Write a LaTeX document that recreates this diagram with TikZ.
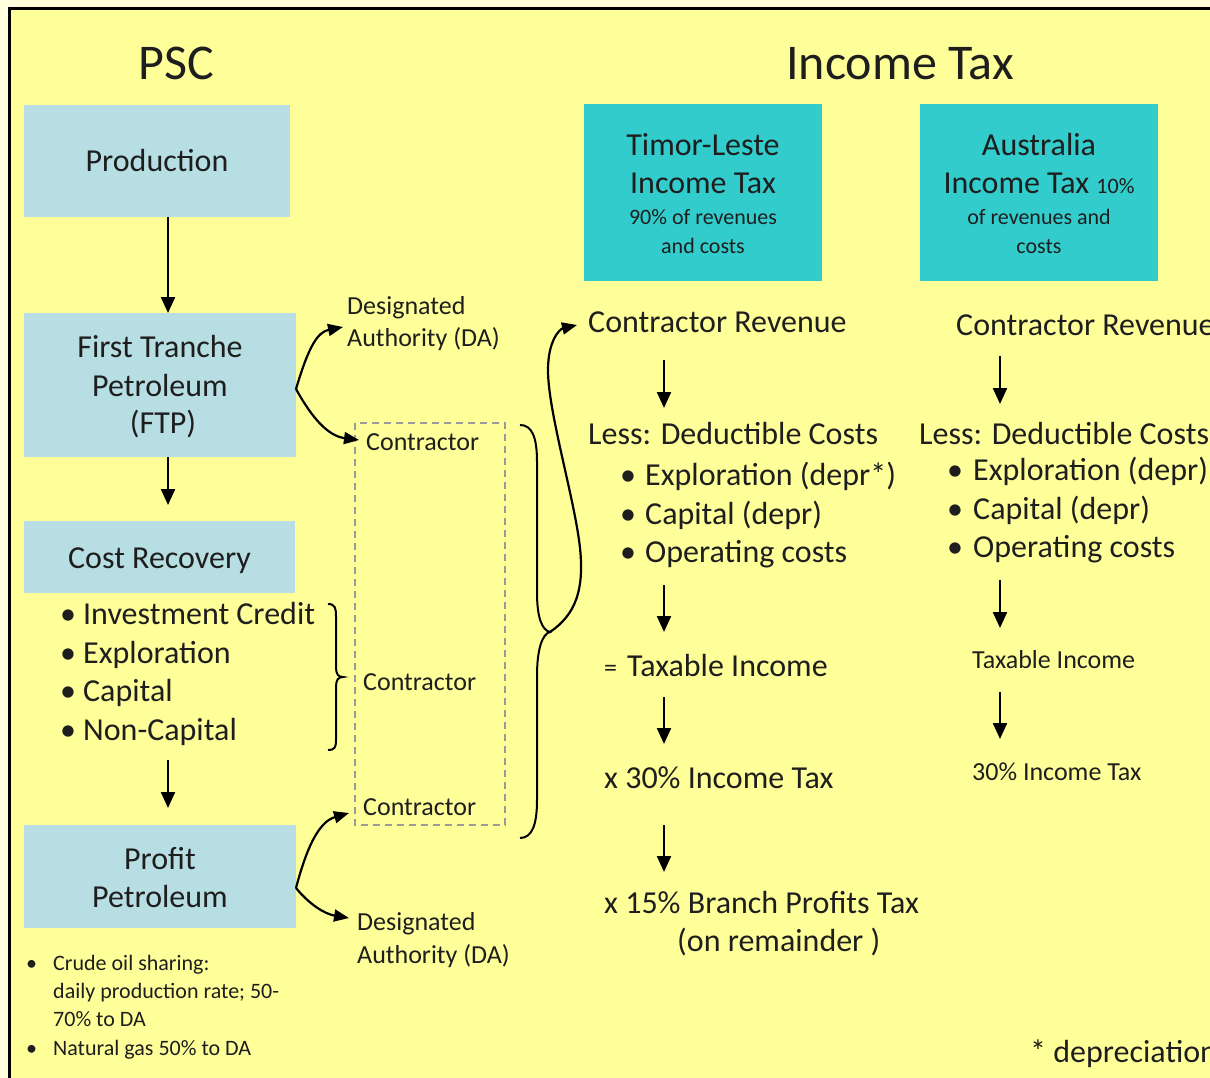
\documentclass[tikz,border=0pt]{standalone}
\usepackage{fontspec}
\setmainfont{Carlito}
\usetikzlibrary{arrows.meta}
\definecolor{bgyellow}{HTML}{FFFF99}
\definecolor{paleyellow}{HTML}{FFFFDD}
\definecolor{lightblue}{HTML}{B7DFE3}
\definecolor{teal}{HTML}{33CCCC}
\definecolor{ink}{HTML}{1E1E1E}
\definecolor{dashgray}{HTML}{9A9A9A}
\newcommand\fsTitle{\fontsize{50}{60}\selectfont}
\newcommand\fsBig{\fontsize{32}{38}\selectfont}
\newcommand\fsMid{\fontsize{26}{32}\selectfont}
\newcommand\fsSmall{\fontsize{22}{28}\selectfont}
\newcommand\bul[1]{\makebox[#1][l]{\textbullet}}
\tikzset{
  boxblue/.style={fill=lightblue, draw=none, inner sep=0pt},
  boxteal/.style={fill=teal, draw=none, inner sep=0pt},
  txt/.style={anchor=base west, inner sep=0pt, text=ink},
  ctxt/.style={anchor=base, inner sep=0pt, text=ink},
  flow/.style={draw=black, line width=2.3pt, -{Triangle[width=14pt,length=16pt]}},
  curvearrow/.style={draw=black, line width=2.2pt, -{Triangle[width=12pt,length=15pt]}},
  bracestyle/.style={draw=black, line width=2pt},
  dashbox/.style={draw=dashgray, line width=1.6pt, dash pattern=on 7pt off 5pt}
}
\begin{document}
\begin{tikzpicture}[x=1pt, y=-1pt]
\useasboundingbox (0,0) rectangle (1210,1078);
\clip (0,0) rectangle (1210,1078);
% background and frame
\fill[paleyellow] (0,0) rectangle (1210,1078);
\filldraw[fill=bgyellow, draw=black, line width=3pt] (9,9) rectangle (1240,1110);

% titles
\node[ctxt] (psc) at (176,80) {\fsTitle PSC};
\node[ctxt] (ittitle) at (900,80) {\fsTitle Income Tax};

% PSC boxes
\node[boxblue, minimum width=266pt, minimum height=112pt] (prod) at (157,161) {};
\node[ctxt] (prodtxt) at (157,172) {\fsBig Production};
\node[boxblue, minimum width=272pt, minimum height=144pt] (ftp) at (160,385) {};
\node[ctxt] (ftp1) at (160,357) {\fsBig First Tranche};
\node[ctxt] (ftp2) at (160,396) {\fsBig Petroleum};
\node[ctxt] (ftp3) at (163,433) {\fsBig (FTP)};
\node[boxblue, minimum width=271pt, minimum height=72pt] (cr) at (159.5,557) {};
\node[ctxt] (crtxt) at (159.5,568) {\fsBig Cost Recovery};
\node[boxblue, minimum width=272pt, minimum height=103pt] (pp) at (160,876.5) {};
\node[ctxt] (pp1) at (160,869) {\fsBig Profit};
\node[ctxt] (pp2) at (160,907) {\fsBig Petroleum};

% cost recovery bullets
\node[txt] (b1) at (60,624) {\fsBig\bul{23pt}Investment Credit};
\node[txt] (b2) at (60,663) {\fsBig\bul{23pt}Exploration};
\node[txt] (b3) at (60,701) {\fsBig\bul{23pt}Capital};
\node[txt] (b4) at (60,740) {\fsBig\bul{23pt}Non-Capital};

% PSC vertical arrows
\coordinate (a1s) at (168,217); \coordinate (a1e) at (168,313);
\coordinate (a2s) at (168,457); \coordinate (a2e) at (168,505);
\coordinate (a3s) at (168,760); \coordinate (a3e) at (168,808);
\draw[flow] (a1s) -- (a1e);
\draw[flow] (a2s) -- (a2e);
\draw[flow] (a3s) -- (a3e);

% small brace beside bullets
\draw[bracestyle] (328,604) .. controls (335,604) and (336,608) .. (336,616) -- (336,667) .. controls (336,674) and (338,677) .. (343,677)
  .. controls (338,677) and (336,680) .. (336,687) -- (336,740) .. controls (336,747) and (335,750) .. (328,750);

% Designated authority labels
\node[txt] (da1a) at (347,314) {\fsMid Designated};
\node[txt] (da1b) at (347,346) {\fsMid Authority (DA)};
\node[txt] (da2a) at (357,930) {\fsMid Designated};
\node[txt] (da2b) at (357,963) {\fsMid Authority (DA)};

% dashed contractor box
\draw[dashbox] (355,423) rectangle (505,825);
\node[txt] (c1) at (366,450) {\fsMid Contractor};
\node[txt] (c2) at (363,690) {\fsMid Contractor};
\node[txt] (c3) at (363,815) {\fsMid Contractor};

% curved arrows from FTP and Profit Petroleum
\coordinate (ftpR) at (296,389);
\coordinate (daTip1) at (343,327);
\coordinate (cTip1) at (359,440);
\draw[curvearrow] (ftpR) .. controls (309,345) and (318,332) .. (daTip1);
\draw[curvearrow] (ftpR) .. controls (312,418) and (328,436) .. (cTip1);
\coordinate (ppR) at (296,888);
\coordinate (cTip3) at (349,813);
\coordinate (daTip2) at (349,918);
\draw[curvearrow] (ppR) .. controls (306,850) and (318,822) .. (cTip3);
\draw[curvearrow] (ppR) .. controls (310,905) and (325,914) .. (daTip2);

% big brace
\coordinate (btip) at (550,632);
\draw[bracestyle] (520,425) .. controls (532,425) and (537,437) .. (537,462) -- (537,592) .. controls (537,618) and (542,630) .. (btip)
  .. controls (542,634) and (537,650) .. (537,676) -- (537,800) .. controls (537,825) and (532,838) .. (520,838);
% connector from brace tip to contractor revenue
\coordinate (crTip) at (577,325);
\draw[curvearrow] (btip) .. controls (575,615) and (586,590) .. (579,540) .. controls (572,490) and (548,410) .. (548,370) .. controls (548,340) and (560,329) .. (crTip);

% Timor-Leste column
\node[boxteal, minimum width=238pt, minimum height=177pt] (tl) at (703,192.5) {};
\node[ctxt] (tl1) at (703,156) {\fsBig Timor-Leste};
\node[ctxt] (tl2) at (703,194) {\fsBig Income Tax};
\node[ctxt] (tl3) at (703,225) {\fsSmall 90\% of revenues};
\node[ctxt] (tl4) at (703,254) {\fsSmall and costs};

\node[txt] (tlcr) at (588,332) {\fsBig Contractor Revenue};
\node[txt] (tlless) at (588,444) {\fsBig Less: Deductible Costs};
\node[txt] (tlb1) at (620,485) {\fsBig\bul{25pt}Exploration (depr*)};
\node[txt] (tlb2) at (620,524) {\fsBig\bul{25pt}Capital (depr)};
\node[txt] (tlb3) at (620,562) {\fsBig\bul{25pt}Operating costs};
\node[txt] (tlti) at (604,676) {\makebox[23pt][l]{\fsMid =}\fsBig Taxable Income};
\node[txt] (tlit) at (604,788) {\fsBig x 30\% Income Tax};
\node[txt] (tlbp) at (604,913) {\fsBig x 15\% Branch Profits Tax};
\node[txt] (tlrem) at (677,951) {\fsBig (on remainder )};

\coordinate (t1s) at (664,360); \coordinate (t1e) at (664,408);
\coordinate (t2s) at (664,585); \coordinate (t2e) at (664,632);
\coordinate (t3s) at (664,697); \coordinate (t3e) at (664,744);
\coordinate (t4s) at (664,825); \coordinate (t4e) at (664,872);
\draw[flow] (t1s) -- (t1e);
\draw[flow] (t2s) -- (t2e);
\draw[flow] (t3s) -- (t3e);
\draw[flow] (t4s) -- (t4e);

% Australia column
\node[boxteal, minimum width=238pt, minimum height=177pt] (au) at (1039,192.5) {};
\node[ctxt] (au1) at (1039,156) {\fsBig Australia};
\node[ctxt] (au2) at (1039,194) {\fsBig Income Tax {\fsSmall 10\%}};
\node[ctxt] (au3) at (1039,225) {\fsSmall of revenues and};
\node[ctxt] (au4) at (1039,254) {\fsSmall costs};

\node[txt] (aucr) at (956,335) {\fsBig Contractor Revenue};
\node[txt] (auless) at (919,444) {\fsBig Less: Deductible Costs};
\node[txt] (aub1) at (947,480) {\fsBig\bul{26pt}Exploration (depr)};
\node[txt] (aub2) at (947,519) {\fsBig\bul{26pt}Capital (depr)};
\node[txt] (aub3) at (947,557) {\fsBig\bul{26pt}Operating costs};
\node[txt] (auti) at (972,668) {\fsMid Taxable Income};
\node[txt] (auit) at (972,780) {\fsMid 30\% Income Tax};

\coordinate (u1s) at (1000,356); \coordinate (u1e) at (1000,404);
\coordinate (u2s) at (1000,580); \coordinate (u2e) at (1000,628);
\coordinate (u3s) at (1000,692); \coordinate (u3e) at (1000,739);
\draw[flow] (u1s) -- (u1e);
\draw[flow] (u2s) -- (u2e);
\draw[flow] (u3s) -- (u3e);

% footnotes
\node[txt] (fn1) at (26,970) {\fsSmall\bul{27pt}Crude oil sharing:};
\node[txt] (fn2) at (53,998) {\fsSmall daily production rate; 50-};
\node[txt] (fn3) at (53,1026) {\fsSmall 70\% to DA};
\node[txt] (fn4) at (26,1055) {\fsSmall\bul{27pt}Natural gas 50\% to DA};
\node[txt] (dep) at (1030,1062) {\fsBig * depreciation};
\end{tikzpicture}
\end{document}
